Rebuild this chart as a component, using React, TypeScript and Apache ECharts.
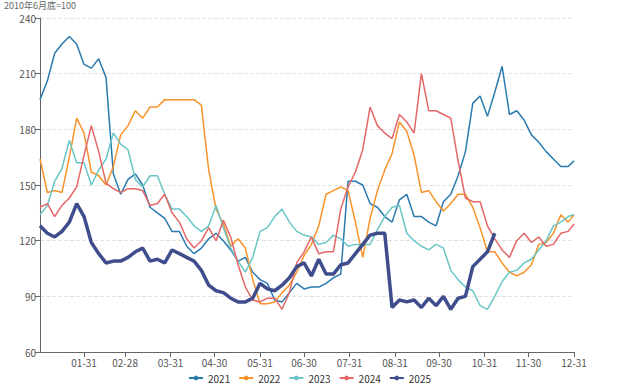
import React, { useEffect, useRef } from "react";
import * as echarts from "echarts";

const monthLengths = [31, 28, 31, 30, 31, 30, 31, 31, 30, 31, 30, 31];
const tickLabels = ["01-31", "02-28", "03-31", "04-30", "05-31", "06-30", "07-31", "08-31", "09-30", "10-31", "11-30", "12-31"];
const seriesNames = ["2021", "2022", "2023", "2024", "2025"];
const STEP = 5;

const y2021 = [196, 206, 221, 226, 230, 226, 215, 213, 218, 208,
  156, 145, 153, 156, 150, 138, 135, 132, 125, 125,
  117, 113, 116, 121, 124, 120, 115, 109, 111, 103,
  99, 97, 88, 87, 92, 97, 94, 95, 95, 97,
  100, 102, 152, 152, 150, 140, 138, 133, 130, 142,
  145, 133, 133, 130, 128, 141, 145, 155, 168, 194,
  198, 187, 200, 214, 188, 190, 185, 177, 173, 168,
  164, 160, 160, 163];
const y2022 = [164, 146, 147, 146, 165, 186, 178, 157, 155, 150,
  160, 177, 182, 190, 186, 192, 192, 196, 196, 196,
  196, 196, 193, 158, 137, 129, 117, 121, 116, 99,
  86, 86, 87, 92, 96, 103, 112, 118, 128, 145,
  147, 149, 147, 130, 111, 132, 147, 158, 167, 184,
  179, 166, 146, 147, 141, 136, 140, 145, 145, 138,
  127, 114, 114, 108, 103, 101, 103, 107, 118, 119,
  124, 134, 130, 134];
const y2023 = [134, 139, 152, 159, 174, 162, 162, 150, 158, 164,
  178, 172, 169, 153, 149, 155, 155, 145, 137, 137,
  133, 128, 125, 128, 139, 127, 116, 109, 103, 111,
  125, 127, 133, 137, 130, 125, 123, 122, 118, 119,
  123, 121, 117, 118, 118, 118, 126, 133, 138, 139,
  124, 120, 117, 115, 118, 116, 104, 99, 95, 93,
  85, 83, 90, 98, 103, 104, 108, 110, 115, 120,
  128, 130, 133, 134];
const y2024 = [138, 140, 133, 139, 143, 149, 166, 182, 168, 151,
  148, 146, 148, 148, 147, 139, 140, 145, 135, 130,
  121, 116, 120, 127, 120, 131, 122, 107, 95, 88,
  87, 89, 89, 83, 92, 108, 114, 122, 113, 114,
  114, 137, 149, 157, 169, 192, 182, 178, 175, 188,
  184, 178, 210, 190, 190, 188, 186, 163, 143, 141,
  141, 128, 121, 115, 111, 120, 124, 119, 122, 117,
  118, 124, 125, 129];
const y2025 = [128, 124, 122, 125, 130, 140, 133, 119, 113, 108,
  109, 109, 111, 114, 116, 109, 110, 108, 115, 113,
  111, 109, 104, 96, 93, 92, 89, 87, 87, 89,
  97, 94, 93, 96, 100, 106, 108, 101, 110, 102,
  102, 107, 108, 113, 118, 123, 124, 124, 84, 88,
  87, 88, 84, 89, 85, 90, 83, 89, 90, 106,
  110, 114, 124];

const colors = ["#2a7ab0", "#f8922a", "#6ac6c6", "#e46767", "#3f4d8c"];
const widths = [1.5, 1.5, 1.5, 1.5, 3.5];

function buildDays(): string[] {
  const out: string[] = [];
  monthLengths.forEach((n, m) => {
    for (let d = 1; d <= n; d++) {
      out.push(String(m + 1).padStart(2, "0") + "-" + String(d).padStart(2, "0"));
    }
  });
  return out;
}

export default function App() {
  const ref = useRef<HTMLDivElement>(null);
  useEffect(() => {
    if (!ref.current) return;
    document.body.style.margin = "0";
    const chart = echarts.init(ref.current, undefined, { renderer: "svg" });
    const days = buildDays();
    const last = days.length - 1;
    const all = [y2021, y2022, y2023, y2024, y2025];
    const font = "'Noto Sans CJK SC', 'Noto Sans', sans-serif";
    const showTick = (_i: number, v: string) => tickLabels.includes(v);
    chart.setOption({
      animation: false,
      textStyle: { fontFamily: font },
      title: {
        text: "2010年6月底=100",
        left: 4,
        top: 1,
        padding: 0,
        textStyle: { fontSize: 9, lineHeight: 9, fontWeight: "normal", color: "#666", fontFamily: font },
      },
      grid: { left: 40, right: 45, top: 18, bottom: 33 },
      legend: {
        bottom: 0,
        left: "center",
        padding: [2, 5],
        itemWidth: 14,
        itemHeight: 6,
        itemGap: 8,
        textStyle: { fontSize: 10, color: "#333", fontFamily: font },
        data: seriesNames,
      },
      xAxis: {
        type: "category",
        data: days,
        boundaryGap: false,
        axisLine: { lineStyle: { color: "#666" } },
        axisTick: { interval: showTick, length: 5, lineStyle: { color: "#666" } },
        axisLabel: { interval: showTick, fontSize: 10, color: "#555", margin: 5, fontFamily: font },
        splitLine: { show: false },
      },
      yAxis: {
        type: "value",
        min: 60,
        max: 240,
        interval: 30,
        axisLine: { show: true, lineStyle: { color: "#666" } },
        axisTick: { show: true, length: 5, lineStyle: { color: "#666" } },
        axisLabel: { fontSize: 10, lineHeight: 10, color: "#555", margin: 4, fontFamily: font },
        splitLine: { lineStyle: { type: "dashed", color: "#e3e3e3" } },
      },
      series: all.map((vals, k) => ({
        name: seriesNames[k],
        type: "line",
        symbol: "none",
        showSymbol: false,
        color: colors[k],
        lineStyle: { width: widths[k], color: colors[k] },
        data: vals.map((v, i) => [Math.min(i * STEP, last), v]),
        z: k === 4 ? 5 : 2,
      })),
    });
    return () => chart.dispose();
  }, []);
  return <div ref={ref} style={{ width: 619, height: 385 }} />;
}
